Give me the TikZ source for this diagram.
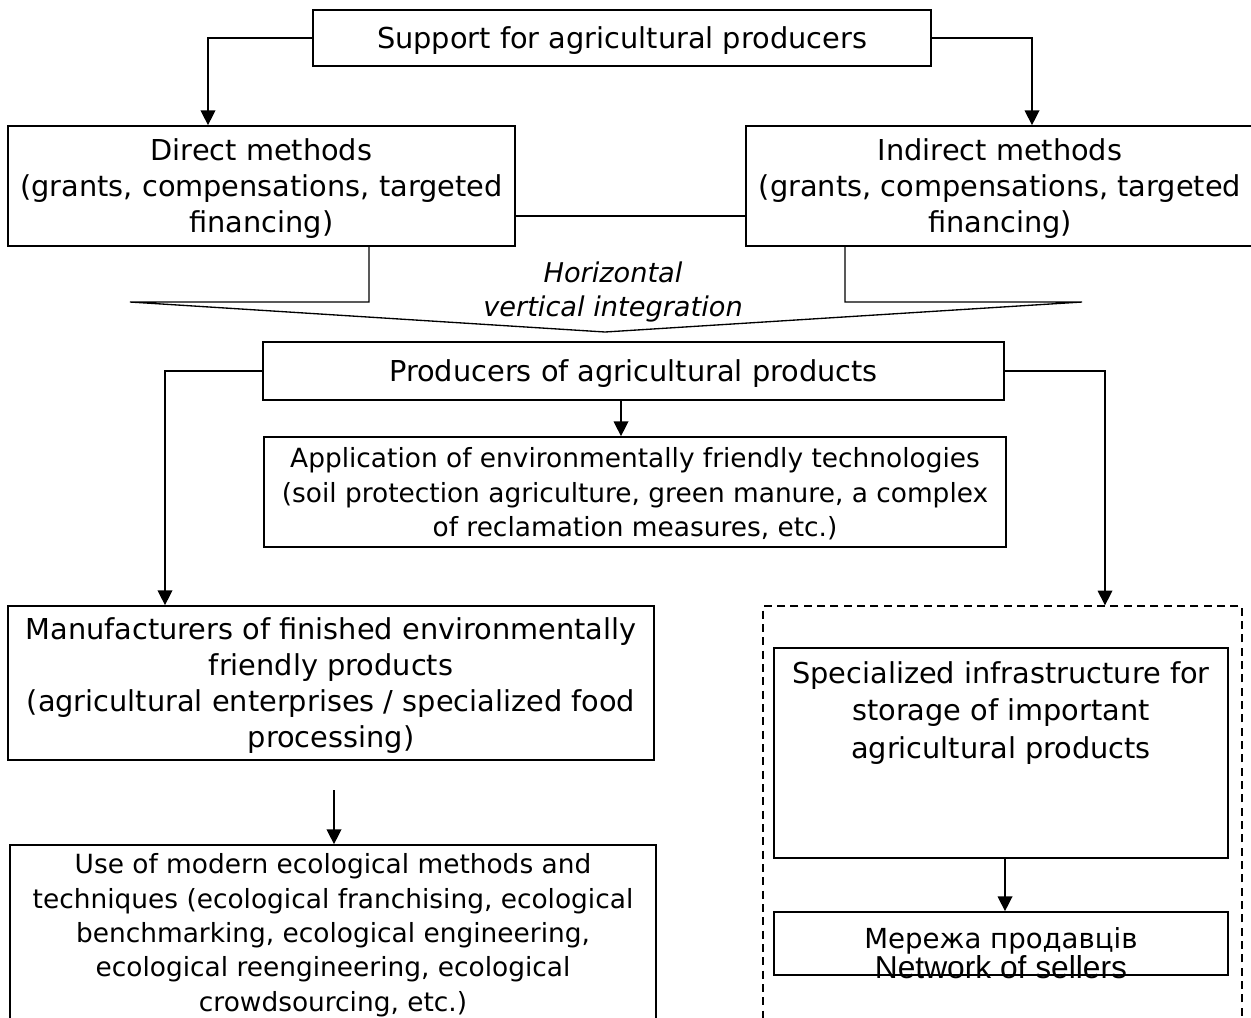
\documentclass[tikz,border=0pt]{standalone}
\usepackage{fontspec}
\setmainfont{DejaVu Sans}
\newfontfamily\netfont{Liberation Sans}
\usetikzlibrary{arrows.meta}
\newcommand\diagfont{\fontsize{21.6}{27}\selectfont}
\newcommand\smallfont{\fontsize{19.8}{25.8}\selectfont}

\begin{document}
\begin{tikzpicture}[x=0.75pt, y=-0.75pt, font=\diagfont,
	box/.style={draw, line width=1.3pt, align=center, inner sep=0pt, text depth=0pt},
	link/.style={line width=1pt},
	arr/.style={link, -{Triangle[length=11pt, width=11pt]}}]
	\path[use as bounding box, clip] (0,0) rectangle (1251,1017);
	\node[box, minimum width=618*0.75pt, minimum height=56*0.75pt] (sup) at (622,38) {Support for agricultural producers};
	\node[box, minimum width=507*0.75pt, minimum height=120*0.75pt] (direct) at (261.5,186) {Direct methods\\(grants, compensations, targeted\\financing)};
	\node[box, minimum width=508*0.75pt, minimum height=120*0.75pt] (indirect) at (1000,186) {Indirect methods\\(grants, compensations, targeted\\financing)};
	\node[align=center, font=\fontsize{20.4}{25.5}\selectfont\itshape] (integr) at (613,291.5) {Horizontal\\vertical integration};
	\node[box, minimum width=741*0.75pt, minimum height=58*0.75pt] (prod) at (633.5,371) {Producers of agricultural products};
	\node[box, minimum width=742*0.75pt, minimum height=110*0.75pt, font=\smallfont] (app) at (635,492) {Application of environmentally friendly technologies\\(soil protection agriculture, green manure, a complex\\of reclamation measures, etc.)};
	\node[box, minimum width=646*0.75pt, minimum height=154*0.75pt] (manu) at (331,683) {Manufacturers of finished environmentally\\friendly products\\(agricultural enterprises / specialized food\\processing)};
	\node[box, minimum width=646*0.75pt, minimum height=175*0.75pt, font=\smallfont] (use) at (333,932.5) {Use of modern ecological methods and\\techniques (ecological franchising, ecological\\benchmarking, ecological engineering,\\ecological reengineering, ecological\\crowdsourcing, etc.)};
	\node[draw, line width=1pt, dash pattern=on 6pt off 4pt, minimum width=479*0.75pt, minimum height=424*0.75pt] (store) at (1002.5,818) {};
	\node[box, minimum width=454*0.75pt, minimum height=210*0.75pt] (spec) at (1001,753) {};
	\node[align=center, font=\fontsize{21.6}{27.8}\selectfont] (spectext) at (1001,713) {Specialized infrastructure for\\storage of important\\agricultural products};
	\node[box, minimum width=454*0.75pt, minimum height=63*0.75pt] (net) at (1001,943.5) {};
	\node[align=center, font=\fontsize{20.7}{23}\selectfont] (nettext) at (1001,953) {Мережа продавців\\{\netfont\fontsize{23.8}{23}\selectfont Network of sellers}};
	\coordinate (vleft) at (130,302);
	\coordinate (vtip) at (605,332);
	\coordinate (vright) at (1082,302);
	\coordinate (manuout) at (334,790);
	\draw[arr] (sup.west) -| (direct.north -| 208,0);
	\draw[arr] (sup.east) -| (indirect.north -| 1032,0);
	\draw[link] (direct.east |- 0,216) -- (indirect.west |- 0,216);
	\draw[link] (direct.south -| 369,0) |- (vleft) -- (vtip) -- (vright) -| (indirect.south -| 845,0);
	\draw[arr] (prod.west) -| (manu.north -| 165,0);
	\draw[arr] (prod.east) -| (store.north -| 1105,0);
	\draw[arr] (prod.south -| 621,0) -- (app.north -| 621,0);
	\draw[arr] (manuout) -- (use.north -| manuout);
	\draw[arr] (spec.south -| 1005,0) -- (net.north -| 1005,0);
\end{tikzpicture}
\end{document}
